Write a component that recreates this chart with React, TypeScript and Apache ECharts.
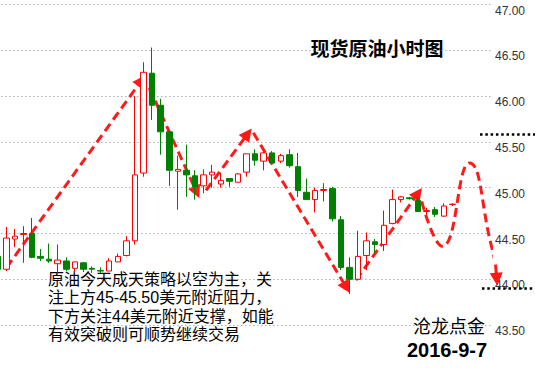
import React, { useEffect, useRef } from 'react';
import * as echarts from 'echarts';

// hourly candles: [open, close, low, high]
const candles: number[][] = [
  [44.25, 44.11, 44.10, 44.27],
  [44.11, 44.45, 44.09, 44.57],
  [44.44, 44.47, 44.35, 44.55],
  [44.49, 44.50, 44.18, 44.58],
  [44.50, 44.24, 44.23, 44.67],
  [44.25, 44.23, 44.20, 44.33],
  [44.22, 44.20, 44.18, 44.39],
  [44.17, 44.21, 44.07, 44.38],
  [44.20, 44.11, 44.09, 44.24],
  [44.12, 44.19, 44.08, 44.19],
  [44.18, 44.11, 44.08, 44.19],
  [44.12, 44.11, 44.07, 44.14],
  [44.095, 44.09, 44.07, 44.13],
  [44.09, 44.20, 44.09, 44.23],
  [44.19, 44.25, 44.19, 44.28],
  [44.26, 44.42, 44.25, 44.47],
  [44.42, 45.14, 44.38, 46.00],
  [45.16, 46.26, 45.12, 46.37],
  [46.25, 45.90, 45.74, 46.53],
  [45.90, 45.61, 45.36, 45.97],
  [45.61, 45.19, 45.02, 45.61],
  [45.18, 45.20, 44.76, 45.35],
  [45.19, 45.14, 44.90, 45.47],
  [45.13, 45.01, 44.87, 45.19],
  [45.02, 45.14, 44.94, 45.20],
  [45.14, 45.17, 45.00, 45.25],
  [45.04, 45.08, 45.00, 45.16],
  [45.10, 45.07, 45.01, 45.10],
  [45.06, 45.15, 45.06, 45.16],
  [45.17, 45.37, 45.12, 45.37],
  [45.37, 45.30, 45.24, 45.42],
  [45.29, 45.38, 45.19, 45.39],
  [45.38, 45.27, 45.27, 45.40],
  [45.29, 45.35, 45.27, 45.37],
  [45.36, 45.24, 45.22, 45.42],
  [45.23, 44.97, 44.90, 45.38],
  [44.95, 44.87, 44.87, 45.10],
  [44.87, 44.97, 44.73, 45.00],
  [44.97, 44.98, 44.85, 45.05],
  [44.99, 44.66, 44.63, 45.01],
  [44.65, 44.13, 44.10, 44.69],
  [44.13, 44.00, 43.84, 44.24],
  [44.00, 44.25, 44.00, 44.53],
  [44.26, 44.42, 44.10, 44.51],
  [44.41, 44.38, 44.29, 44.44],
  [44.38, 44.59, 44.31, 44.75],
  [44.61, 44.87, 44.60, 44.98],
  [44.87, 44.90, 44.84, 44.91],
  [44.89, 44.88, 44.87, 44.90],
  [44.86, 44.74, 44.74, 44.90],
  [44.74, 44.75, 44.70, 44.78],
  [44.76, 44.71, 44.68, 44.79],
  [44.69, 44.80, 44.68, 44.83],
  [44.815, 44.82, 44.80, 44.83],
];

const slotCount = 58; // hourly slots incl. future ones
const categories: string[] = [];
for (let i = 0; i < slotCount; i++) categories.push('H' + i);

// dashed trend arrows: [slot, price] pairs (start -> arrow tip)
const trendArrows: number[][][] = [
  [[1.05, 44.13], [16.75, 46.17]],
  [[17.67, 46.09], [23.2, 44.95]],
  [[24.28, 44.97], [29.15, 45.59]],
  [[29.8, 45.6], [40.65, 43.91]],
  [[41.77, 43.99], [49.0, 44.94]],
];
const forecastCurve: number[][] = [
  [49.42, 44.85],
  [51.83, 44.36],
  [54.97, 45.27],
  [57.56, 44.36],
  [58.03, 44.16],
];
const forecastArrow: number[][] = [[58.03, 44.16], [58.17, 44.0]];

const resistance = 45.58;
const support = 43.9;
const levelMarks: number[][][] = [
  [[56.22, resistance], [62.7, resistance]],
  [[56.45, support], [62.7, support]],
];

const yMin = 43.0;
const yMax = 47.0;
const yStep = 0.5;

const titleText = '现货原油小时图';
const noteLines = [
  '原油今天成天策略以空为主，关',
  '注上方45-45.50美元附近阻力，',
  '下方关注44美元附近支撑，如能',
  '有效突破则可顺势继续交易',
];
const authorText = '沧龙点金';
const dateText = '2016-9-7';

const RED = '#ff1a1a';
const GREEN = '#008000';
const CJK = '"Noto Sans CJK SC"';
const MIXED = '"Liberation Sans", "Noto Sans CJK SC"';

export default function App() {
  const ref = useRef<HTMLDivElement>(null);
  useEffect(() => {
    if (!ref.current) return;
    const chart = echarts.init(ref.current, null, { renderer: 'svg' });
    const dashed = { color: RED, width: 3, type: [9, 5] as number[], opacity: 1 };
    chart.setOption({
      animation: false,
      backgroundColor: '#fff',
      grid: {
        left: -6.6,
        right: 44,
        top: 4.5,
        bottom: -2.9,
        containLabel: false,
        outerBoundsMode: 'none',
      },
      xAxis: [
        {
          type: 'category',
          data: categories,
          boundaryGap: true,
          show: false,
        },
        {
          type: 'value',
          min: -0.5,
          max: slotCount - 0.5,
          show: false,
          splitLine: { show: false },
        },
      ],
      yAxis: {
        type: 'value',
        position: 'right',
        min: yMin,
        max: yMax,
        interval: yStep,
        axisLine: { show: true, lineStyle: { color: '#8a8a8a', width: 1 } },
        axisTick: { show: false },
        splitLine: { show: true, lineStyle: { color: '#888', width: 1, type: [1, 3] } },
        axisLabel: {
          color: '#333',
          fontSize: 12,
          fontFamily: '"Liberation Sans", Arial, sans-serif',
          margin: 4,
          verticalAlign: 'top',
          showMinLabel: false,
          formatter: (v: number) => v.toFixed(2),
        },
      },
      series: [
        {
          type: 'candlestick',
          data: candles,
          barWidth: 6,
          itemStyle: {
            color: '#fff',
            color0: GREEN,
            borderColor: '#ff0000',
            borderColor0: GREEN,
            borderWidth: 1,
          },
        },
        {
          type: 'lines',
          coordinateSystem: 'cartesian2d',
          xAxisIndex: 1,
          yAxisIndex: 0,
          clip: false,
          symbol: ['none', 'triangle'],
          symbolSize: [12, 13],
          lineStyle: dashed,
          data: trendArrows.map((c) => ({ coords: c })),
        },
        {
          type: 'line',
          xAxisIndex: 1,
          yAxisIndex: 0,
          clip: false,
          smooth: true,
          showSymbol: false,
          symbol: 'none',
          lineStyle: dashed,
          data: forecastCurve,
        },
        {
          type: 'lines',
          coordinateSystem: 'cartesian2d',
          xAxisIndex: 1,
          yAxisIndex: 0,
          clip: false,
          symbol: ['none', 'triangle'],
          symbolSize: [12, 13],
          lineStyle: dashed,
          data: [{ coords: forecastArrow }],
        },
        {
          type: 'lines',
          coordinateSystem: 'cartesian2d',
          xAxisIndex: 1,
          yAxisIndex: 0,
          clip: false,
          symbol: 'none',
          lineStyle: { color: '#000', width: 2.5, type: [2.5, 2.8], opacity: 1 },
          data: levelMarks.map((c) => ({ coords: c })),
        },
      ],
      graphic: [
        {
          type: 'text',
          x: 377,
          y: 47,
          style: {
            text: titleText,
            fontSize: 19,
            fontWeight: 'bold',
            fontFamily: CJK,
            fill: '#000',
            align: 'center',
            verticalAlign: 'middle',
          },
        },
        ...noteLines.map((line, i) => ({
          type: 'text',
          x: 48,
          y: 279 + i * 18.5,
          style: {
            text: line,
            fontSize: 16,
            fontFamily: MIXED,
            fill: '#000',
            align: 'left',
            verticalAlign: 'middle',
          },
        })),
        {
          type: 'text',
          x: 449,
          y: 325,
          style: {
            text: authorText,
            fontSize: 18,
            fontFamily: CJK,
            fill: '#000',
            align: 'center',
            verticalAlign: 'middle',
          },
        },
        {
          type: 'text',
          x: 407,
          y: 350,
          style: {
            text: dateText,
            fontSize: 20,
            fontWeight: 'bold',
            fontFamily: '"Liberation Sans", Arial, sans-serif',
            fill: '#000',
            align: 'left',
            verticalAlign: 'middle',
          },
        },
      ],
    });
    return () => chart.dispose();
  }, []);
  return (
    <div
      ref={ref}
      style={{ position: 'absolute', left: 0, top: 0, width: 535, height: 368 }}
    />
  );
}
